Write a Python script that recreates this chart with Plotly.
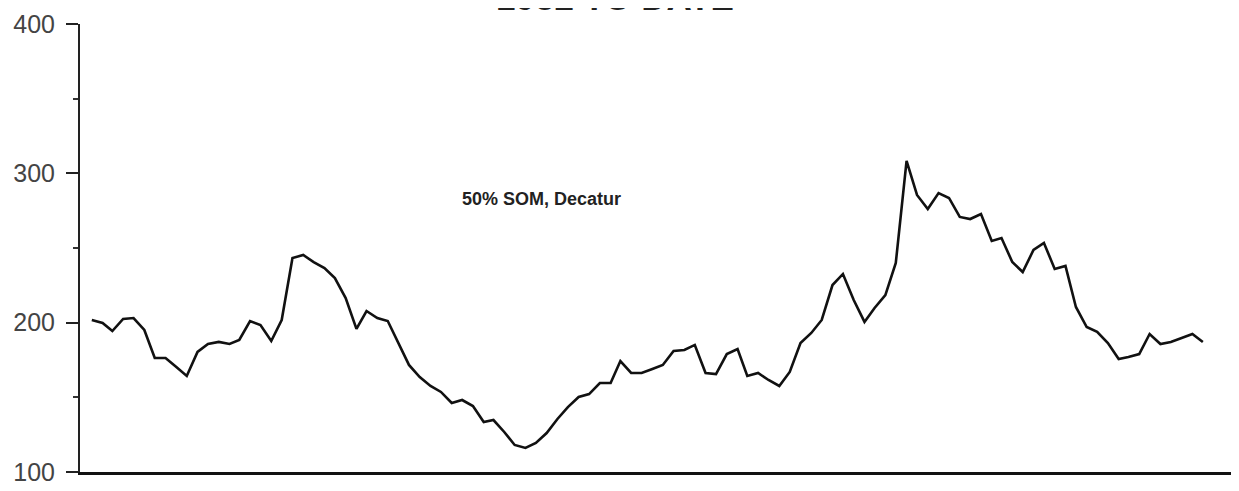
import pandas as pd
import plotly.graph_objects as go

# Monthly values, 1982 onward
values = [
    201.8, 199.8, 194.4, 202.5, 203.1, 195.1, 176.3, 176.3, 170.3, 164.3,
    180.4, 185.7, 187.1, 185.7, 188.4, 201.1, 198.4, 187.7, 201.8, 243.3,
    245.3, 240.6, 236.6, 229.9, 216.5, 195.8, 207.8, 203.1, 201.1, 186.4,
    171.7, 163.6, 157.6, 153.6, 146.2, 148.2, 144.2, 133.5, 134.8, 126.8,
    118.1, 116.1, 119.4, 126.1, 135.5, 143.5, 150.2, 152.2, 159.6, 159.6,
    174.3, 166.3, 166.3, 169.0, 171.7, 181.0, 181.7, 185.1, 166.3, 165.6,
    179.0, 182.4, 164.3, 166.3, 161.6, 157.6, 167.0, 186.4, 193.1, 201.8,
    225.2, 232.6, 215.2, 200.5, 209.8, 218.5, 240.0, 308.3, 285.5, 276.1,
    286.8, 283.5, 270.8, 269.4, 272.8, 254.7, 256.7, 240.6, 233.9, 248.7,
    253.4, 236.0, 238.0, 210.5, 197.1, 193.8, 186.4, 175.7, 177.0, 179.0,
    192.4, 185.7, 187.1, 189.7, 192.4, 187.1,
]
dates = pd.date_range("1982-01-01", periods=len(values), freq="MS")

y_ticks = [100, 200, 300, 400]
y_tick_text = ["100", "200", "300", "400"]
title_text = "1982 TO DATE"
series_label = "50% SOM, Decatur"

fig = go.Figure()
fig.add_trace(go.Scatter(
    x=dates, y=values, mode="lines",
    line=dict(color="#111111", width=2.6),
    hoverinfo="skip", showlegend=False,
))

fig.update_layout(
    width=1231, height=483,
    margin=dict(l=72, r=0, t=16, b=19),
    paper_bgcolor="white", plot_bgcolor="white",
    font=dict(family="Liberation Sans, Arial, sans-serif", color="#333333"),
    showlegend=False,
)

fig.update_xaxes(
    range=["1981-11-28", "1991-01-13"],
    showgrid=False, zeroline=False,
    showline=True, linecolor="#111111", linewidth=2.5,
    showticklabels=False, ticks="",
)

fig.update_yaxes(
    range=[100, 400],
    tickvals=y_ticks, ticktext=y_tick_text,
    showgrid=False, zeroline=False,
    showline=True, linecolor="#222222", linewidth=2,
    ticks="outside", ticklen=12, tickwidth=2, tickcolor="#222222",
    ticklabelstandoff=6,
    tickfont=dict(size=25, color="#444444"),
    minor=dict(ticks="outside", ticklen=5, tickwidth=1.5, tickcolor="#333333", dtick=50),
)

fig.add_annotation(
    text=f"<b>{title_text}</b>", xref="paper", yref="paper",
    x=0.462, y=1.012, xanchor="center", yanchor="bottom",
    showarrow=False,
    font=dict(size=35, color="#222222", family="Liberation Sans, Arial, sans-serif"),
)

fig.add_annotation(
    text=f"<b>{series_label}</b>", xref="paper", yref="paper",
    x=0.398, y=0.609, xanchor="center", yanchor="middle",
    showarrow=False,
    font=dict(size=18, color="#222222", family="Liberation Sans, Arial, sans-serif"),
)

fig.write_html("out.html")
